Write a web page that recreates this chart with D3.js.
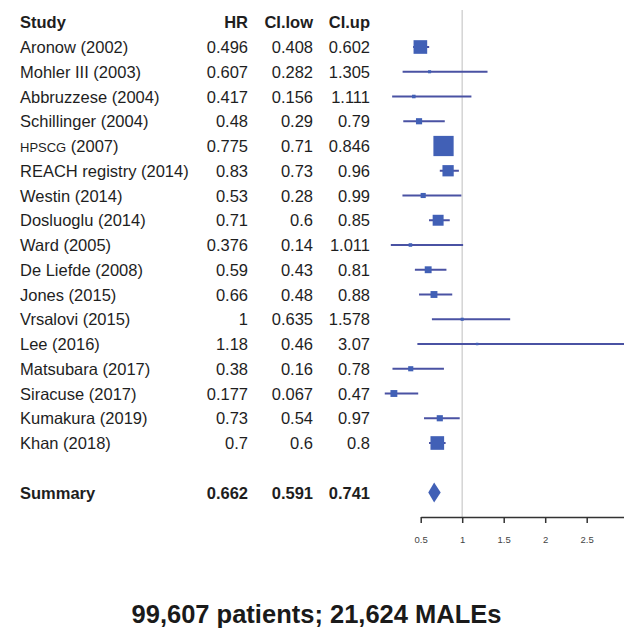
<!DOCTYPE html>
<html>
<head>
<meta charset="utf-8">
<script src="https://cdn.jsdelivr.net/npm/d3@7"></script>
<style>
html,body{margin:0;padding:0;background:#fff;}
svg{display:block;}
text{font-family:"Liberation Sans", Arial, Helvetica, sans-serif;}
</style>
</head>
<body>
<script>
const studies = ["Aronow (2002)","Mohler III (2003)","Abbruzzese (2004)","Schillinger (2004)","HPSCG (2007)","REACH registry (2014)","Westin (2014)","Dosluoglu (2014)","Ward (2005)","De Liefde (2008)","Jones (2015)","Vrsalovi (2015)","Lee (2016)","Matsubara (2017)","Siracuse (2017)","Kumakura (2019)","Khan (2018)"];
const hrLabels = ["0.496","0.607","0.417","0.48","0.775","0.83","0.53","0.71","0.376","0.59","0.66","1","1.18","0.38","0.177","0.73","0.7"];
const lowLabels = ["0.408","0.282","0.156","0.29","0.71","0.73","0.28","0.6","0.14","0.43","0.48","0.635","0.46","0.16","0.067","0.54","0.6"];
const upLabels = ["0.602","1.305","1.111","0.79","0.846","0.96","0.99","0.85","1.011","0.81","0.88","1.578","3.07","0.78","0.47","0.97","0.8"];
const weights = [177,9,12,36,390,121,25,114,12,45,45,9,2,25,45,36,177];
const summary = {label:"Summary", hr:"0.662", low:"0.591", up:"0.741"};
const headers = ["Study","HR","CI.low","CI.up"];
const ticks = [0.5,1,1.5,2,2.5,3];
const footer = "99,607 patients; 21,624 MALEs";

const W = 624, H = 629;
const svg = d3.select("body").append("svg").attr("width",W).attr("height",H);

const x = d3.scaleLinear().domain([0.5,3]).range([420.7,628.2]);
const y = d3.scaleLinear().domain([0,16]).range([47,443]);
const size = d3.scaleSqrt().domain([0,400]).range([0,20.5]);
const summaryY = y(18);

const txt = "#1e1e1e";
const fs = 16.5;
const colX = [20,248,313,370];

// reference line at 1
svg.append("line").attr("x1",x(1)).attr("x2",x(1)).attr("y1",10).attr("y2",517)
  .attr("stroke","#d4d4d4").attr("stroke-width",1.5);

// header
const hdr = svg.append("g").attr("font-weight","bold").attr("font-size",fs).attr("fill",txt);
headers.forEach((h,i)=>{
  hdr.append("text").attr("x",colX[i]).attr("y",22+6)
    .attr("text-anchor", i===0?"start":"end").text(h);
});

// rows text
const rows = svg.append("g").attr("font-size",fs).attr("fill",txt);
studies.forEach((s,i)=>{
  const yy = y(i)+6;
  const t = rows.append("text").attr("x",colX[0]).attr("y",yy);
  if (s.startsWith("HPSCG")) {
    t.append("tspan").attr("font-size",13).text("HPSCG");
    t.append("tspan").text(" (2007)");
  } else t.text(s);
  [hrLabels[i],lowLabels[i],upLabels[i]].forEach((v,k)=>{
    rows.append("text").attr("x",colX[k+1]).attr("y",yy).attr("text-anchor","end").text(v);
  });
});

// summary text
const sg = svg.append("g").attr("font-size",fs).attr("font-weight","bold").attr("fill",txt);
[summary.label,summary.hr,summary.low,summary.up].forEach((v,k)=>{
  sg.append("text").attr("x",colX[k]).attr("y",summaryY+6)
    .attr("text-anchor",k===0?"start":"end").text(v);
});

// CI lines and boxes
const plot = svg.append("g");
studies.forEach((s,i)=>{
  const yy = y(i);
  plot.append("line").attr("x1",x(+lowLabels[i])).attr("x2",x(+upLabels[i]))
    .attr("y1",yy).attr("y2",yy).attr("stroke","#4a52a3").attr("stroke-width",2);
  const b = Math.max(size(weights[i]),2.5);
  plot.append("rect").attr("x",x(+hrLabels[i])-b/2).attr("y",yy-b/2)
    .attr("width",b).attr("height",b).attr("fill","#4160b6");
});

// summary diamond
const dh = 10;
plot.append("path").attr("d",
  `M${x(+summary.low)},${summaryY} L${x(+summary.hr)},${summaryY-dh} L${x(+summary.up)},${summaryY} L${x(+summary.hr)},${summaryY+dh} Z`)
  .attr("fill","#4160b6");

// axis
const axis = d3.axisBottom(x).tickValues(ticks).tickFormat(d3.format("")).tickSize(6).tickSizeOuter(0);
const ag = svg.append("g").attr("transform","translate(0,517)").call(axis);
ag.select(".domain").attr("stroke","#333").attr("stroke-width",1.5);
ag.selectAll(".tick line").attr("stroke","#333").attr("stroke-width",1.5);
ag.selectAll(".tick text").attr("font-size",9.5).attr("fill","#444").attr("y",19).attr("dy","0.71em")
  .attr("font-family","Liberation Sans, Arial, sans-serif");

// footer
svg.append("text").attr("x",316.5).attr("y",623).attr("text-anchor","middle")
  .attr("font-size",25.5).attr("font-weight","bold").attr("fill","#1a1a1a").text(footer);
</script>
</body>
</html>
